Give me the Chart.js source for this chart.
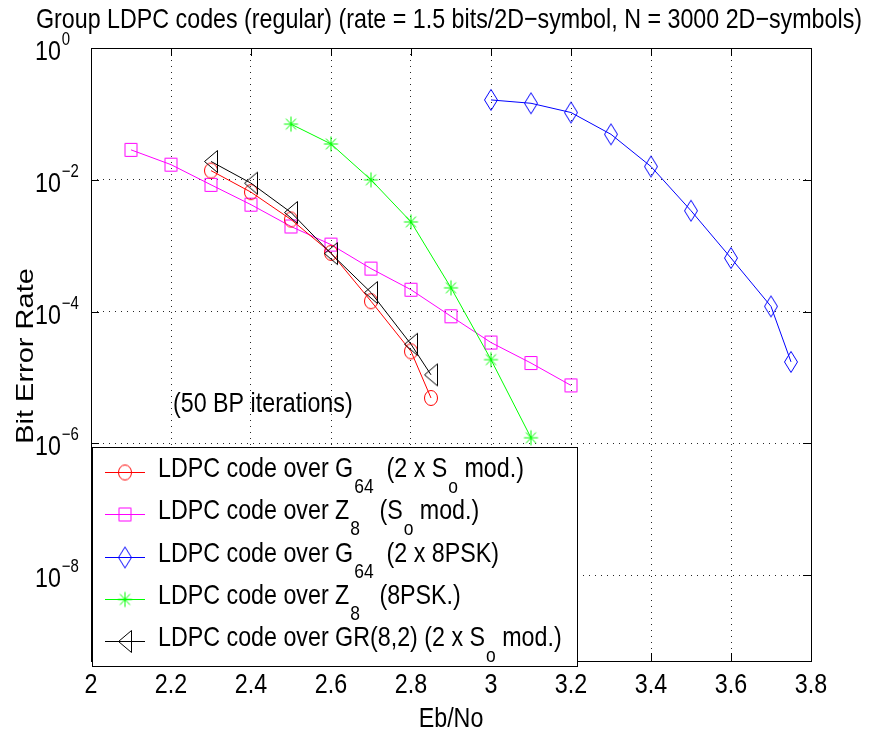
<!DOCTYPE html>
<html><head><meta charset="utf-8">
<script src="https://cdn.jsdelivr.net/npm/chart.js@4.4.1/dist/chart.umd.min.js"></script>
<style>html,body{margin:0;padding:0;background:#fff;overflow:hidden}</style>
</head><body>
<canvas id="c" width="871" height="734"></canvas>
<script>
// ---------- data ----------
const titleText = 'Group LDPC codes (regular) (rate = 1.5 bits/2D\u2212symbol, N = 3000 2D\u2212symbols)';
const xAxisLabel = 'Eb/No';
const yAxisLabel = 'Bit Error Rate';
const noteText = '(50 BP iterations)';
const xTicks = [2, 2.2, 2.4, 2.6, 2.8, 3, 3.2, 3.4, 3.6, 3.8];
const xTickLabels = ['2', '2.2', '2.4', '2.6', '2.8', '3', '3.2', '3.4', '3.6', '3.8'];
const yTickExps = [0, -2, -4, -6, -8];

const g64SoX = [2.3, 2.4, 2.5, 2.6, 2.7, 2.8, 2.85];
const g64SoY = [0.0138, 0.0065, 0.0025, 0.00078, 0.000144, 0.000025, 0.0000049];

const z8SoX = [2.1, 2.2, 2.3, 2.4, 2.5, 2.6, 2.7, 2.8, 2.9, 3.0, 3.1, 3.2];
const z8SoY = [0.0285, 0.017, 0.0084, 0.0042, 0.00196, 0.00104, 0.00045, 0.000215, 0.000085, 0.000034, 0.0000166, 0.0000076];

const g64PskX = [3.0, 3.1, 3.2, 3.3, 3.4, 3.5, 3.6, 3.7, 3.75];
const g64PskY = [0.163, 0.145, 0.105, 0.049, 0.0159, 0.0034, 0.00065, 0.00012, 0.0000173];

const z8PskX = [2.5, 2.6, 2.7, 2.8, 2.9, 3.0, 3.1];
const z8PskY = [0.07, 0.035, 0.01, 0.0023, 0.00023, 0.0000187, 0.00000122];

const gr82X = [2.3, 2.4, 2.5, 2.6, 2.7, 2.8, 2.85];
const gr82Y = [0.019, 0.0089, 0.0032, 0.00076, 0.000195, 0.000032, 0.000011];

// legend entries: segments of [text, kind] where kind 'n' normal, 's' subscript
const legendEntries = [
  [['LDPC code over G','n'],['64','s'],['  (2 x S','n'],['o','s'],[' mod.)','n']],
  [['LDPC code over Z','n'],['8','s'],['   (S','n'],['o','s'],[' mod.)','n']],
  [['LDPC code over G','n'],['64','s'],['  (2 x 8PSK)','n']],
  [['LDPC code over Z','n'],['8','s'],['   (8PSK.)','n']],
  [['LDPC code over GR(8,2) (2 x S','n'],['o','s'],[' mod.)','n']]
];

// ---------- markers ----------
function makeMarker(type, color, w, h) {
  const c = document.createElement('canvas');
  c.width = w + 3; c.height = h + 3;
  const g = c.getContext('2d');
  const cx = c.width / 2, cy = c.height / 2;
  g.strokeStyle = color; g.lineWidth = 1;
  g.beginPath();
  if (type === 'circle') {
    g.ellipse(cx, cy, w / 2, h / 2, 0, 0, Math.PI * 2);
  } else if (type === 'square') {
    g.rect(cx - w / 2, cy - h / 2, w, h);
  } else if (type === 'diamond') {
    g.moveTo(cx, cy - h / 2); g.lineTo(cx + w / 2, cy); g.lineTo(cx, cy + h / 2); g.lineTo(cx - w / 2, cy); g.closePath();
  } else if (type === 'triLeft') {
    g.moveTo(cx - w / 2, cy); g.lineTo(cx + w / 2, cy - h / 2); g.lineTo(cx + w / 2, cy + h / 2); g.closePath();
  } else if (type === 'star') {
    g.moveTo(cx - w / 2, cy); g.lineTo(cx + w / 2, cy);
    g.moveTo(cx, cy - h / 2); g.lineTo(cx, cy + h / 2);
    const dx = w * 0.36, dy = h * 0.36;
    g.moveTo(cx - dx, cy - dy); g.lineTo(cx + dx, cy + dy);
    g.moveTo(cx - dx, cy + dy); g.lineTo(cx + dx, cy - dy);
  }
  g.stroke();
  return c;
}
const RED = '#ff0000', MAG = '#ff00ff', BLUE = '#0000ff', GREEN = '#00ff00', BLACK = '#000000';
const mCircle = makeMarker('circle', RED, 13, 15);
const mSquare = makeMarker('square', MAG, 12, 13);
const mDiamond = makeMarker('diamond', BLUE, 13, 21);
const mStar = makeMarker('star', GREEN, 14, 15);
const mTri = makeMarker('triLeft', BLACK, 13, 22);

function pts(xs, ys) { return xs.map((x, i) => ({ x: x, y: ys[i] })); }
function ds(label, xs, ys, color, marker, order) {
  return { label: label, data: pts(xs, ys), borderColor: color, backgroundColor: color, borderWidth: 1,
    pointStyle: marker, pointRadius: 6, pointHoverRadius: 6, showLine: true, fill: false, tension: 0, order: order };
}

const YMIN = Math.pow(10, -9.3);
const FONT = '"Liberation Sans", Arial, sans-serif';
let SX = 0.72;

function drawText(ctx, s, x, y, size, align) {
  ctx.save();
  ctx.font = size + 'px ' + FONT;
  const w = ctx.measureText(s).width * SX;
  const x0 = align === 'center' ? x - w / 2 : (align === 'right' ? x - w : x);
  ctx.translate(x0, y); ctx.scale(SX, 1);
  ctx.textAlign = 'left'; ctx.textBaseline = 'alphabetic'; ctx.fillStyle = '#000';
  ctx.fillText(s, 0, 0);
  ctx.restore();
  return w;
}

const decor = {
  id: 'decor',
  afterDatasetsDraw(chart) {
    const ctx = chart.ctx, a = chart.chartArea;
    const xs = chart.scales.x, ys = chart.scales.y;
    ctx.save();
    ctx.font = '28px ' + FONT;
    SX = 826 / ctx.measureText(titleText).width;
    // box
    ctx.strokeStyle = '#000'; ctx.lineWidth = 1;
    ctx.strokeRect(Math.round(a.left) + 0.5, Math.round(a.top) + 0.5, Math.round(a.right - a.left), Math.round(a.bottom - a.top));
    // tick marks
    ctx.beginPath();
    xTicks.forEach(v => {
      const px = Math.round(xs.getPixelForValue(v)) + 0.5;
      ctx.moveTo(px, a.bottom); ctx.lineTo(px, a.bottom - 8);
      ctx.moveTo(px, a.top); ctx.lineTo(px, a.top + 8);
    });
    yTickExps.forEach(e => {
      const py = Math.round(ys.getPixelForValue(Math.pow(10, e))) + 0.5;
      ctx.moveTo(a.left, py); ctx.lineTo(a.left + 8, py);
      ctx.moveTo(a.right, py); ctx.lineTo(a.right - 8, py);
    });
    ctx.stroke();
    // x tick labels
    xTicks.forEach((v, i) => drawText(ctx, xTickLabels[i], xs.getPixelForValue(v), 693, 28, 'center'));
    // y tick labels 10^e
    yTickExps.forEach(e => {
      const py = ys.getPixelForValue(Math.pow(10, e));
      const w = drawText(ctx, '10', 35, py + 12, 28, 'left');
      drawText(ctx, e === 0 ? '0' : '\u2212' + Math.abs(e), 35 + w + 1, py - 3, 18, 'left');
    });
    // axis labels
    drawText(ctx, xAxisLabel, (a.left + a.right) / 2, 727, 28, 'center');
    ctx.save();
    ctx.translate(33, 356); ctx.rotate(-Math.PI / 2);
    ctx.font = '29px ' + FONT; ctx.fillStyle = '#000';
    ctx.scale(1, SX);
    ctx.textAlign = 'center'; ctx.textBaseline = 'alphabetic';
    ctx.fillText(yAxisLabel, 0, 0);
    ctx.restore();
    // title
    drawText(ctx, titleText, 449, 28, 28, 'center');
    // note
    drawText(ctx, noteText, 173, 412, 28, 'left');
    // legend
    const L = 92, T = 447, R = 577, B = 666;
    ctx.fillStyle = '#fff'; ctx.fillRect(L, T, R - L, B - T);
    ctx.strokeStyle = '#000'; ctx.lineWidth = 1;
    ctx.strokeRect(L + 0.5, T + 0.5, R - L, B - T);
    const items = chart.data.datasets;
    items.forEach((d, i) => {
      const ly = Math.round(472 + i * 42.3);
      ctx.strokeStyle = d.borderColor; ctx.lineWidth = 1;
      ctx.beginPath(); ctx.moveTo(105, ly + 0.5); ctx.lineTo(145, ly + 0.5); ctx.stroke();
      const m = d.pointStyle;
      ctx.drawImage(m, 125 - m.width / 2, ly + 0.5 - m.height / 2);
      let x = 158;
      legendEntries[i].forEach(seg => {
        if (seg[1] === 'n') x += drawText(ctx, seg[0], x, ly + 5, 28, 'left');
        else x += drawText(ctx, seg[0], x + 1, ly + 21, 21, 'left') + 1;
      });
    });
    ctx.restore();
  }
};

new Chart(document.getElementById('c'), {
  type: 'line',
  data: {
    datasets: [
      ds('LDPC code over G64 (2 x So mod.)', g64SoX, g64SoY, RED, mCircle, 4),
      ds('LDPC code over Z8 (So mod.)', z8SoX, z8SoY, MAG, mSquare, 5),
      ds('LDPC code over G64 (2 x 8PSK)', g64PskX, g64PskY, BLUE, mDiamond, 3),
      ds('LDPC code over Z8 (8PSK.)', z8PskX, z8PskY, GREEN, mStar, 2),
      ds('LDPC code over GR(8,2) (2 x So mod.)', gr82X, gr82Y, BLACK, mTri, 1)
    ]
  },
  options: {
    responsive: false, animation: false, devicePixelRatio: 1,
    layout: { padding: { left: 91, top: 48, right: 60, bottom: 73 } },
    plugins: { legend: { display: false }, title: { display: false }, tooltip: { enabled: false } },
    events: [],
    scales: {
      x: {
        type: 'linear', min: 2, max: 3.8, bounds: 'data',
        afterBuildTicks: s => { s.ticks = xTicks.map(v => ({ value: v })); },
        afterFit: s => { s.height = 0; },
        ticks: { display: false },
        grid: { color: 'rgba(0,0,0,0.85)', lineWidth: 1, drawTicks: false },
        border: { display: false, dash: [1, 5] }
      },
      y: {
        type: 'logarithmic', min: YMIN, max: 1, bounds: 'data',
        afterBuildTicks: s => { s.ticks = yTickExps.map(e => ({ value: Math.pow(10, e) })); },
        afterFit: s => { s.width = 0; },
        ticks: { display: false },
        grid: { color: 'rgba(0,0,0,0.85)', lineWidth: 1, drawTicks: false },
        border: { display: false, dash: [1, 5] }
      }
    }
  },
  plugins: [decor]
});
</script>
</body></html>
